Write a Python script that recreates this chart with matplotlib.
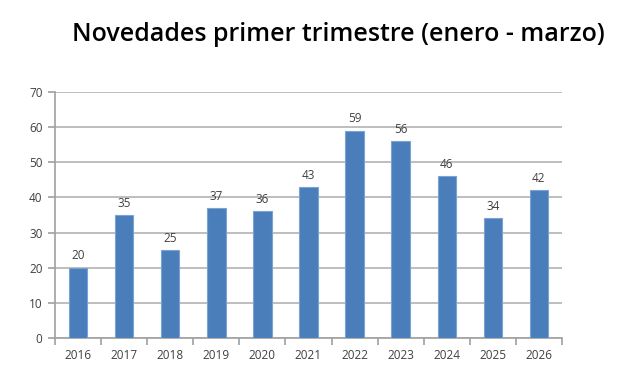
import numpy as np
import matplotlib.pyplot as plt

years = ["2016", "2017", "2018", "2019", "2020", "2021", "2022", "2023", "2024", "2025", "2026"]
values = [20, 35, 25, 37, 36, 43, 59, 56, 46, 34, 42]

fig = plt.figure(figsize=[6.4, 3.88], dpi=100)
ax = fig.add_axes([0.086, 0.129, 0.792, 0.634])

x = np.arange(len(years))
bars = ax.bar(x, values, width=0.4, color="#4a7ebb", edgecolor="#7aa3d4", linewidth=0.8, zorder=3)
for xi, v in zip(x, values):
    ax.text(xi, v + 1.5, str(v), ha="center", va="bottom", fontsize=8.5, color="#404040", family="Open Sans")

ax.set_xlim(-0.5, len(years) - 0.5)
ax.set_ylim(0, 70)
ax.set_yticks(range(0, 71, 10))
ax.yaxis.grid(True, color="#b3b3b3", linewidth=1.2, zorder=0)
ax.set_xticks(x)
ax.set_xticklabels(years)
ax.set_xticks(np.arange(-0.5, len(years), 1), minor=True)
ax.tick_params(axis="x", which="major", length=0, pad=8)
ax.tick_params(axis="x", which="minor", length=5, color="#a0a0a0", width=1.2)
ax.tick_params(axis="y", length=5, color="#a0a0a0", width=1.2, pad=4)
ax.tick_params(labelsize=8.5, labelcolor="#404040")
for lab in ax.get_xticklabels() + ax.get_yticklabels():
    lab.set_family("Open Sans")

for s in ["top", "right"]:
    ax.spines[s].set_visible(False)
ax.spines["left"].set_color("#a0a0a0")
ax.spines["bottom"].set_color("#a0a0a0")
ax.spines["left"].set_linewidth(1.2)
ax.spines["bottom"].set_linewidth(1.2)

fig.text(0.528, 0.91, "Novedades primer trimestre (enero - marzo)", ha="center", va="center",
         fontsize=18, family="Open Sans", weight="semibold", color="#000000")

fig.savefig("out.png", dpi=100)
